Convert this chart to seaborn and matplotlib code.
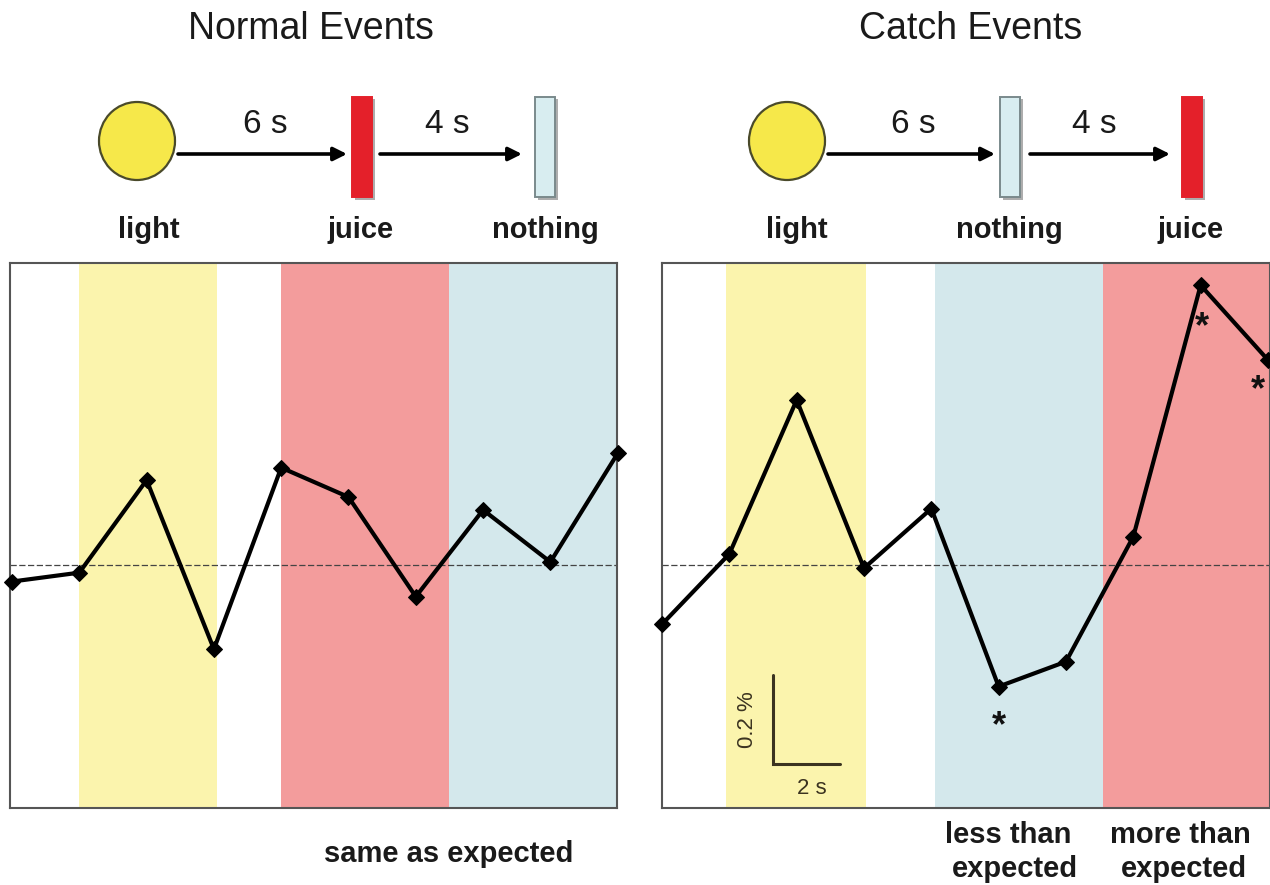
import numpy as np
import pandas as pd
import matplotlib
matplotlib.use("Agg")
import matplotlib.pyplot as plt
from matplotlib.patches import Ellipse, Rectangle
import seaborn as sns

# ---- data -------------------------------------------------------------
times = [-2, 0, 2, 4, 6, 8, 10, 12, 14, 16]          # s, relative to light onset
normal_signal = [-0.037, -0.017, 0.191, -0.189, 0.219, 0.153, -0.071, 0.124, 0.007, 0.251]   # % change
catch_signal = [-0.133, 0.025, 0.371, -0.007, 0.127, -0.273, -0.217, 0.064, 0.629, 0.461]    # % change
significant_catch = [8, 14, 16]                        # time points marked with *

# shaded epochs: (start, end, colour key)
normal_epochs = [(0, 4.1, "light"), (6, 11.0, "juice"), (11.0, 16.2, "nothing")]
catch_epochs = [(-0.1, 4.05, "light"), (6.1, 11.1, "nothing"), (11.1, 16.2, "juice")]

panel_titles = ["Normal Events", "Catch Events"]
normal_sequence = ["light", "juice", "nothing"]
catch_sequence = ["light", "nothing", "juice"]
delays = ["6 s", "4 s"]

# ---- style ------------------------------------------------------------
sns.set_style("white")
plt.rcParams["font.family"] = ["Liberation Sans", "DejaVu Sans"]

band_colours = {"light": "#FBF4AD", "juice": "#F39C9C", "nothing": "#D4E8EC"}
icon_colours = {"light": "#F6E84A", "juice": "#E4202A", "nothing": "#D8EDF0"}

W, H = 1270, 885
fig = plt.figure(figsize=(W / 100, H / 100), dpi=100)

YLIM = (-0.546, 0.679)


def px_axes(x0, y0, x1, y1):
    return fig.add_axes([x0 / W, 1 - y1 / H, (x1 - x0) / W, (y1 - y0) / H])


def draw_panel(ax, signal, epochs, xlim):
    for start, end, key in epochs:
        ax.axvspan(start, end, color=band_colours[key], lw=0, zorder=0)
    ax.axhline(0, color="#444444", lw=0.9, ls=(0, (5, 2)), zorder=1)
    df = pd.DataFrame({"time": times, "signal": signal})
    sns.lineplot(data=df, x="time", y="signal", ax=ax, color="black", lw=3.0,
                 marker="D", markersize=8, markeredgecolor="black",
                 clip_on=False, zorder=3)
    ax.set_xlim(*xlim)
    ax.set_ylim(*YLIM)
    ax.set_xticks([])
    ax.set_yticks([])
    ax.set_xlabel("")
    ax.set_ylabel("")
    for sp in ax.spines.values():
        sp.set_visible(True)
        sp.set_color("#555555")
        sp.set_linewidth(1.5)


ax_n = px_axes(10, 263, 617, 808)
ax_c = px_axes(662, 263, 1270, 808)
draw_panel(ax_n, normal_signal, normal_epochs, (-2.06, 15.98))
draw_panel(ax_c, catch_signal, catch_epochs, (-2.0, 16.06))

# significance stars on the catch trace
star_offsets = {8: (0, -36), 14: (1, -38), 16: (-10, -26)}
for t in significant_catch:
    v = catch_signal[times.index(t)]
    dx, dy = star_offsets[t]
    ax_c.annotate("*", xy=(t, v), xytext=(dx, dy - 14), textcoords="offset pixels",
                  ha="center", va="baseline", fontsize=26, fontweight="bold",
                  color="#111111", zorder=5, annotation_clip=False)

# scale bar: 2 s by 0.2 %
sb_t, sb_v = 1.3, -0.447
ax_c.plot([sb_t, sb_t, sb_t + 2], [sb_v + 0.2, sb_v, sb_v], color="#3b3320", lw=2.2,
          solid_joinstyle="miter", zorder=4)
ax_c.text(sb_t - 0.75, sb_v + 0.1, "0.2 %", rotation=90, ha="center", va="center",
          fontsize=16, color="#3b3320")
ax_c.text(sb_t + 1.15, sb_v - 0.055, "2 s", ha="center", va="center",
          fontsize=16, color="#3b3320")

# ---- event schematics and captions (pixel overlay) ---------------------
ov = fig.add_axes([0, 0, 1, 1], facecolor="none")
ov.set_xlim(0, W)
ov.set_ylim(H, 0)
ov.axis("off")


def schematic(title, cx_title, circle_x, arrows, bars, delay_x, label_x, sequence):
    ov.text(cx_title, 39, title, ha="center", va="baseline", fontsize=27, color="#1a1a1a")
    ov.add_patch(Ellipse((circle_x, 141), 76, 78, facecolor=icon_colours["light"],
                         edgecolor="#4a4a2a", lw=1.6, zorder=3))
    for x0, x1 in arrows:
        ov.annotate("", xy=(x1, 154), xytext=(x0, 154),
                    arrowprops=dict(arrowstyle="-|>", lw=2.6, color="black",
                                    mutation_scale=20, shrinkA=0, shrinkB=0))
    for (bx, key) in bars:
        # drop shadow then the bar itself
        ov.add_patch(Rectangle((bx + 3, 99), 20, 101, facecolor="#6b6b6b",
                               edgecolor="none", alpha=0.55, zorder=2))
        ec = "#7a8a8c" if key == "nothing" else icon_colours[key]
        ov.add_patch(Rectangle((bx, 97), 20, 100, facecolor=icon_colours[key],
                               edgecolor=ec, lw=1.4, zorder=3))
    for x, s in zip(delay_x, delays):
        ov.text(x, 133, s, ha="center", va="baseline", fontsize=24, color="#1a1a1a")
    for x, s in zip(label_x, sequence):
        ov.text(x, 238, s, ha="center", va="baseline", fontsize=21,
                fontweight="bold", color="#1a1a1a")


schematic(panel_titles[0], 311, 137, [(178, 347), (380, 522)],
          [(352, "juice"), (535, "nothing")],
          [265, 447], [149, 361, 545], normal_sequence)
schematic(panel_titles[1], 971, 787, [(828, 995), (1030, 1170)],
          [(1000, "nothing"), (1182, "juice")],
          [913, 1094], [797, 1009, 1191], catch_sequence)

cap = dict(ha="center", va="baseline", fontsize=21, fontweight="bold", color="#1a1a1a")
ov.text(449, 862, "same as expected", **cap)
ov.text(1008, 843, "less than", **cap)
ov.text(1015, 877, "expected", **cap)
ov.text(1180, 843, "more than", **cap)
ov.text(1184, 877, "expected", **cap)

fig.savefig("out.png", dpi=100)
